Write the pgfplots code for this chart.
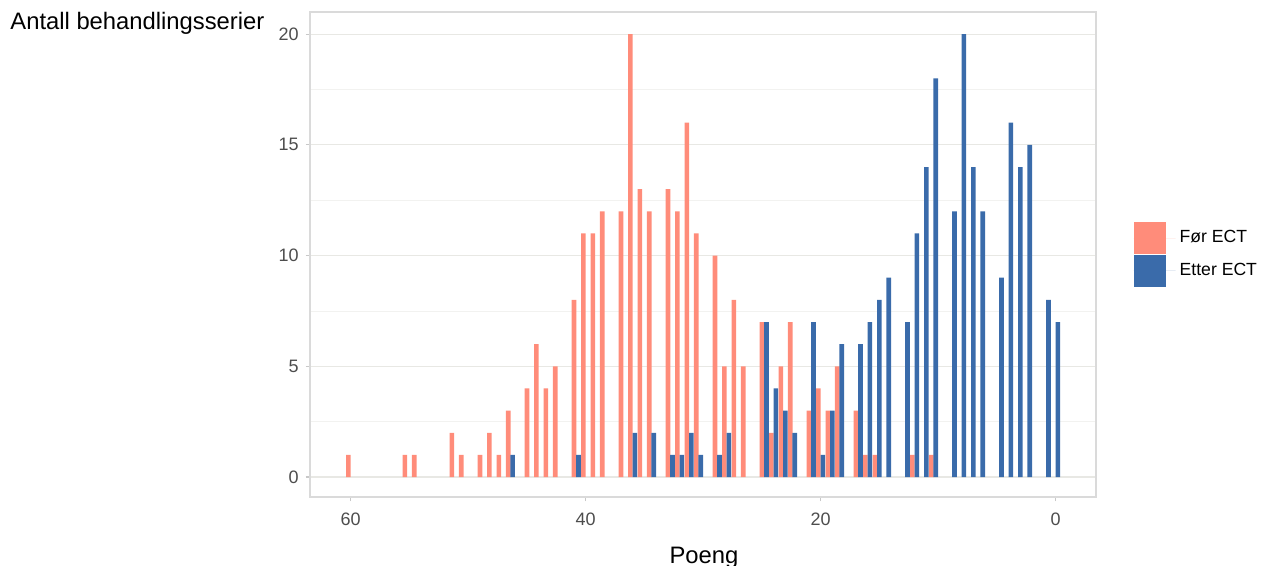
\documentclass[border=0pt]{standalone}
\usepackage{fontspec}
\setmainfont{Liberation Sans}
\usepackage{pgfplots}
\pgfplotsset{compat=1.18}
\definecolor{foer}{RGB}{255,140,122}
\definecolor{etter}{RGB}{58,107,170}
\definecolor{gridc}{RGB}{232,232,228}
\definecolor{framec}{RGB}{218,218,218}
\definecolor{ticklab}{RGB}{77,77,77}

% x = poeng, y = antall behandlingsserier
\pgfplotstableread{
x    y
60   1
55.2 1
54.4 1
51.2 2
50.4 1
48.8 1
48   2
47.2 1
46.4 3
44.8 4
44   6
43.2 4
42.4 5
40.8 8
40   11
39.2 11
38.4 12
36.8 12
36   20
35.2 13
34.4 12
32.8 13
32   12
31.2 16
30.4 11
28.8 10
28   5
27.2 8
26.4 5
24.8 7
24   2
23.2 5
22.4 7
20.8 3
20   4
19.2 3
18.4 5
16.8 3
16   1
15.2 1
12   1
10.4 1
}\foer

\pgfplotstableread{
x    y
46.4 1
40.8 1
36   2
34.4 2
32.8 1
32   1
31.2 2
30.4 1
28.8 1
28   2
24.8 7
24   4
23.2 3
22.4 2
20.8 7
20   1
19.2 3
18.4 6
16.8 6
16   7
15.2 8
14.4 9
12.8 7
12   11
11.2 14
10.4 18
8.8  12
8    20
7.2  14
6.4  12
4.8  9
4    16
3.2  14
2.4  15
0.8  8
0    7
}\etter

\begin{document}
\begin{tikzpicture}
\path[use as bounding box] (0,0) rectangle (632.5pt,283pt);
\begin{axis}[
    at={(155pt,34.5pt)}, anchor=south west,
    width=393pt, height=242.5pt, scale only axis,
    x dir=reverse,
    xmin=-3.43, xmax=63.46, ymin=-0.9, ymax=21,
    xtick={0,20,40,60}, ytick={0,5,10,15,20},
    minor ytick={2.5,7.5,12.5,17.5},
    ymajorgrids, yminorgrids,
    major grid style={gridc, line width=0.6pt},
    minor grid style={gridc!55!white, line width=0.35pt},
    axis line style={framec, line width=0.6pt},
    tick align=outside, tick pos=left,
    major tick length=2.2pt, minor tick length=0pt,
    tick style={framec!80!gray, line width=0.6pt},
    ticklabel style={font=\fontsize{9}{10}\selectfont, text=ticklab},
    /pgf/number format/assume math mode=true,
    xticklabel style={yshift=-2.3pt},
    ybar, bar width=2.3pt,
    legend style={at={(rel axis cs:1.048,0.5)}, anchor=west, draw=none, fill=none,
        inner sep=0pt, outer sep=0pt, row sep=0.6pt,
        font=\fontsize{8.8}{10}\selectfont},
    legend cell align=left,
    sq legend/.style={legend image code/.code={%
        \fill[##1] (0pt,-7.9pt) rectangle (16pt,7.9pt);
        \path (0pt,0pt) -- (21pt,0pt);}},
]
  \addplot[fill=foer, draw=none, bar shift=-1.12pt, sq legend] table[x=x,y=y] {\foer};
  \addlegendentry{Før ECT}
  \addplot[fill=etter, draw=none, bar shift=1.12pt, sq legend] table[x=x,y=y] {\etter};
  \addlegendentry{Etter ECT}
\end{axis}
\node[anchor=base west, inner sep=0pt, font=\fontsize{11.9}{14}\selectfont] at (5pt,268.3pt) {Antall behandlingsserier};
\node[anchor=base, inner sep=0pt, font=\fontsize{11.9}{14}\selectfont] at (352pt,1.4pt) {Poeng};
\end{tikzpicture}
\end{document}
